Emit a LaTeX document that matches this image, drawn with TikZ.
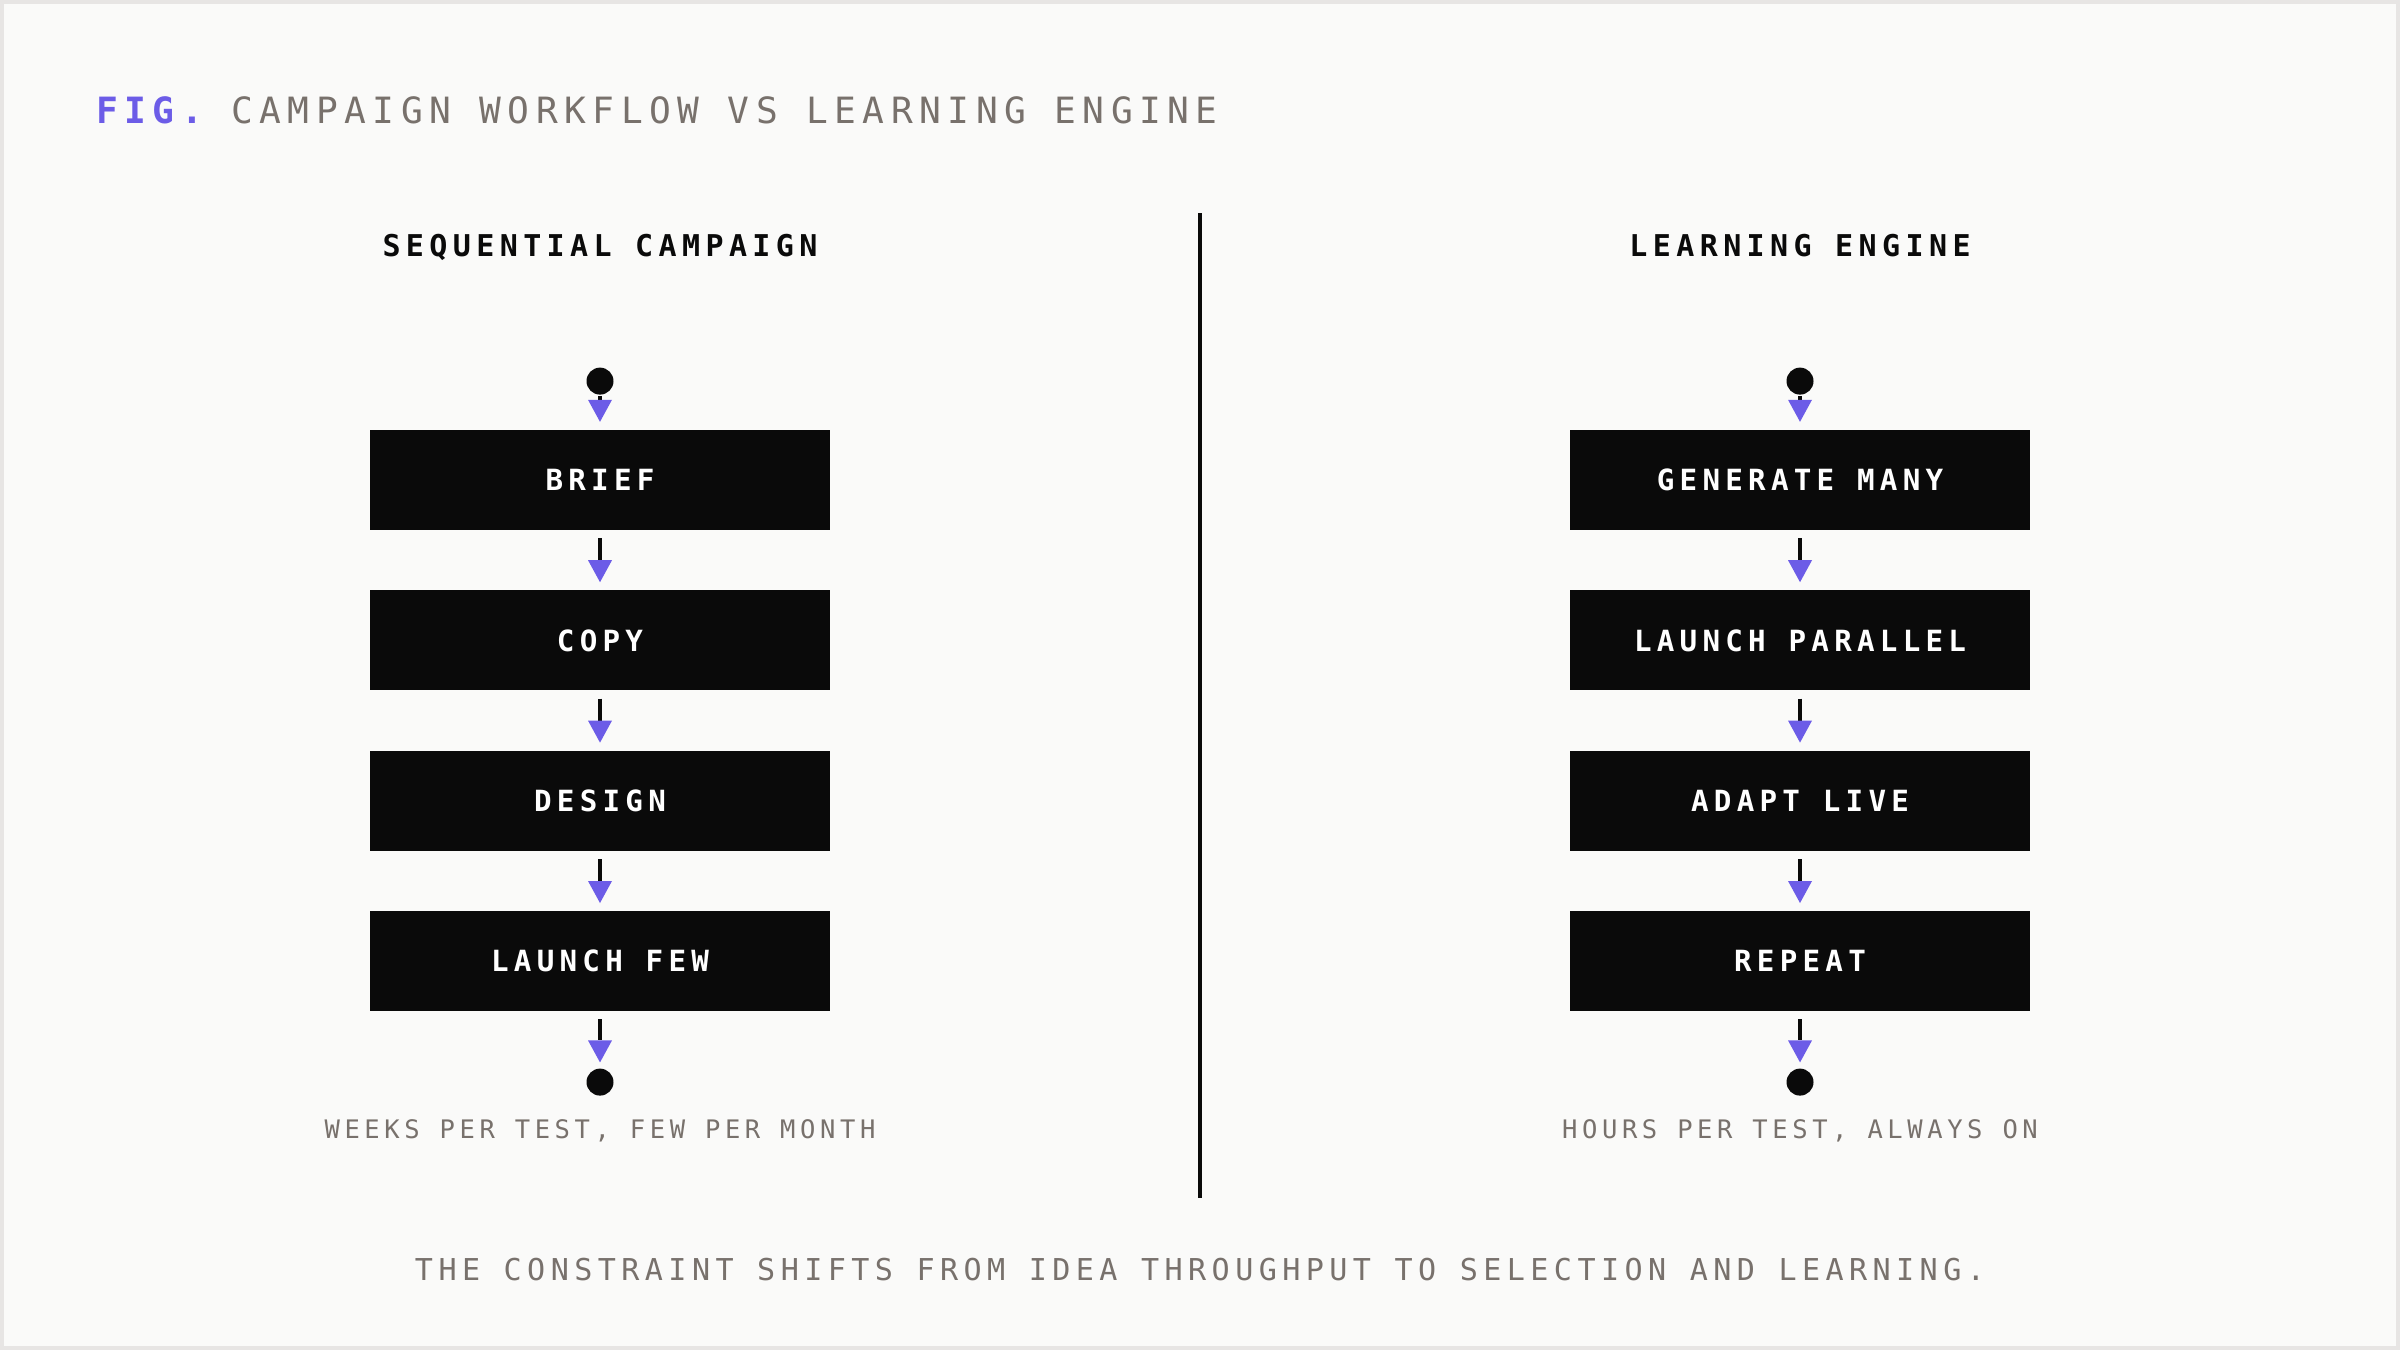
\documentclass[tikz,border=0pt]{standalone}
\usepackage{fontspec}
\usepackage{xcolor}
\usepackage{tikz}
\usetikzlibrary{arrows.meta,positioning}

\newfontfamily\monofont[LetterSpace=18]{DejaVu Sans Mono}
\definecolor{ink}{HTML}{0A0A0A}
\definecolor{accent}{HTML}{6C5CE7}
\definecolor{muted}{HTML}{78716C}
\definecolor{paper}{HTML}{FAFAF9}
\definecolor{frame}{HTML}{E7E5E4}

\begin{document}
\begin{tikzpicture}[
    x=1pt, y=-1pt,
    node distance=60pt,
    box/.style={fill=ink, minimum height=100pt, minimum width=460pt, text=white, font=\monofont\bfseries\fontsize{29.2}{34}\selectfont},
    dot/.style={circle, fill=ink, minimum size=27pt, inner sep=0pt},
    head/.style={anchor=base, inner sep=0pt, text=ink, font=\monofont\bfseries\fontsize{30}{36}\selectfont},
    note/.style={inner sep=0pt, text=muted, font=\monofont\fontsize{25.5}{30}\selectfont},
    arr/.style={-{Triangle[length=22pt, width=24pt, line width=0pt, color=accent, fill=accent]}, line width=4pt, draw=ink}
]
\fill[frame] (0,0) rectangle (2400,1350);
\fill[paper] (4,4) rectangle (2396,1346);
\useasboundingbox (0,0) rectangle (2400,1350);

\node[anchor=base west, inner sep=0pt, text=muted, font=\monofont\fontsize{36.2}{42}\selectfont] (title) at (96,123) {\textcolor{accent}{\bfseries FIG.} CAMPAIGN WORKFLOW VS LEARNING ENGINE};

\node[head] (lhead) at (600,256) {SEQUENTIAL CAMPAIGN};
\node[box] (brief) at (600,480) {BRIEF};
\node[box, below=of brief] (copy) {COPY};
\node[box, below=of copy] (design) {DESIGN};
\node[box, below=of design] (few) {LAUNCH FEW};
\node[dot, above=35pt of brief] (lstart) {};
\node[dot, below=57pt of few] (lend) {};
\node[note, below=24pt of lend] (lnote) {WEEKS PER TEST, FEW PER MONTH};

\draw[arr, shorten <=1pt, shorten >=8pt] (lstart) -- (brief);
\draw[arr, shorten <=8pt, shorten >=8pt] (brief) -- (copy);
\draw[arr, shorten <=8pt, shorten >=8pt] (copy) -- (design);
\draw[arr, shorten <=8pt, shorten >=8pt] (design) -- (few);
\draw[arr, shorten <=8pt, shorten >=6pt] (few) -- (lend);

\node[head] (rhead) at (1800,256) {LEARNING ENGINE};
\node[box] (many) at (1800,480) {GENERATE MANY};
\node[box, below=of many] (parallel) {LAUNCH PARALLEL};
\node[box, below=of parallel] (adapt) {ADAPT LIVE};
\node[box, below=of adapt] (repeat) {REPEAT};
\node[dot, above=35pt of many] (rstart) {};
\node[dot, below=57pt of repeat] (rend) {};
\node[note, below=24pt of rend] (rnote) {HOURS PER TEST, ALWAYS ON};

\draw[arr, shorten <=1pt, shorten >=8pt] (rstart) -- (many);
\draw[arr, shorten <=8pt, shorten >=8pt] (many) -- (parallel);
\draw[arr, shorten <=8pt, shorten >=8pt] (parallel) -- (adapt);
\draw[arr, shorten <=8pt, shorten >=8pt] (adapt) -- (repeat);
\draw[arr, shorten <=8pt, shorten >=6pt] (repeat) -- (rend);

\coordinate (divtop) at (1200,213);
\coordinate (divbot) at (1200,1198);
\draw[ink, line width=4.5pt] (divtop) -- (divbot);

\node[anchor=base, inner sep=0pt, text=muted, font=\monofont\fontsize{30.1}{35}\selectfont] (moral) at (1200,1280) {THE CONSTRAINT SHIFTS FROM IDEA THROUGHPUT TO SELECTION AND LEARNING.};
\end{tikzpicture}
\end{document}
